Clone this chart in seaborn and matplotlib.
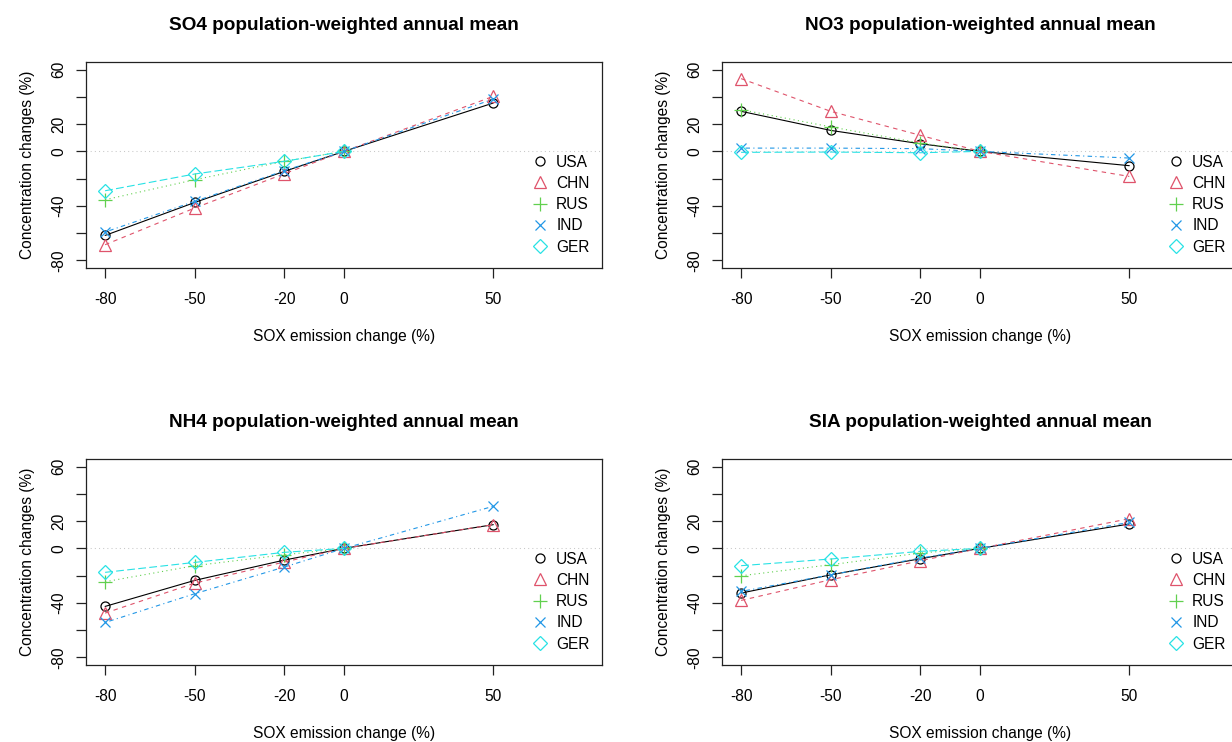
import numpy as np
import pandas as pd
import matplotlib
matplotlib.use("Agg")
import matplotlib.pyplot as plt
from matplotlib.lines import Line2D
import seaborn as sns

# ---------------- data ----------------
emission = [-80, -50, -20, 0, 50]
countries = ["USA", "CHN", "RUS", "IND", "GER"]
nan = np.nan

so4_usa = [-61.7, -37.5, -14.7, 0, 35.5]
so4_chn = [-68.5, -41.6, -16.4, 0, 40.4]
so4_rus = [-35.5, -20.8, -7.3, 0, nan]
so4_ind = [-59.2, -36.7, -14.2, 0, 38.4]
so4_ger = [-28.9, -16.6, -7.3, 0, nan]

no3_usa = [29.4, 15.4, 5.6, 0, -10.5]
no3_chn = [53.4, 29.4, 11.8, 0, -18.4]
no3_rus = [30.6, 18.0, 6.1, 0, nan]
no3_ind = [2.4, 2.4, 2.0, 0, -4.9]
no3_ger = [-0.7, -0.5, -1.0, 0, nan]

nh4_usa = [-42.6, -23.5, -8.6, 0, 17.4]
nh4_chn = [-47.5, -25.5, -10.0, 0, 17.4]
nh4_rus = [-24.5, -12.7, -4.7, 0, nan]
nh4_ind = [-54.4, -33.3, -13.7, 0, 30.9]
nh4_ger = [-17.6, -10.3, -2.9, 0, nan]

sia_usa = [-32.8, -19.4, -7.6, 0, 17.9]
sia_chn = [-38.2, -23.0, -9.1, 0, 21.8]
sia_rus = [-20.1, -12.0, -3.4, 0, nan]
sia_ind = [-31.6, -19.4, -7.1, 0, 19.1]
sia_ger = [-12.7, -7.8, -2.2, 0, nan]

panels = [
    ("SO4 population-weighted annual mean", [so4_usa, so4_chn, so4_rus, so4_ind, so4_ger]),
    ("NO3 population-weighted annual mean", [no3_usa, no3_chn, no3_rus, no3_ind, no3_ger]),
    ("NH4 population-weighted annual mean", [nh4_usa, nh4_chn, nh4_rus, nh4_ind, nh4_ger]),
    ("SIA population-weighted annual mean", [sia_usa, sia_chn, sia_rus, sia_ind, sia_ger]),
]

yticks = [-80, -60, -40, -20, 0, 20, 40, 60]
ytick_labels = ["-80", "", "-40", "", "0", "20", "", "60"]
xticks = emission
xtick_labels = ["-80", "-50", "-20", "0", "50"]

# ---------------- styles ----------------
colors = ["#000000", "#DF536B", "#61D04F", "#2297E6", "#28E2E5"]
markers = ["o", "^", "+", "x", "D"]
msizes = [6.5, 9, 9.5, 7, 7]
linestyles = ["-", (0, (4, 4)), (0, (1, 3)), (0, (1, 3, 4, 3)), (0, (7, 3))]

sns.set_style("ticks")
plt.rcParams["font.family"] = ["Liberation Sans", "DejaVu Sans"]
for k in ["text.color", "axes.labelcolor", "xtick.color", "ytick.color"]:
    plt.rcParams[k] = "black"
FS = 11.2
plt.rcParams["font.size"] = FS

W, H = 1232, 742
fig = plt.figure(figsize=(W / 100, H / 100), dpi=100)

boxes = [(86, 62), (722, 62), (86, 459), (722, 459)]
bw, bh = 516, 206

for (title, series), (bx, by) in zip(panels, boxes):
    ax = fig.add_axes([bx / W, (H - by - bh) / H, bw / W, bh / H])
    ax.axhline(0, color="#C8C8C8", ls=(0, (1, 3)), lw=0.75, zorder=0)
    for i, (name, vals) in enumerate(zip(countries, series)):
        df = pd.DataFrame({"emission": emission, "value": vals}).dropna()
        sns.lineplot(data=df, x="emission", y="value", ax=ax,
                     color=colors[i], marker=markers[i], ms=msizes[i],
                     mfc="none", mec=colors[i], mew=0.9,
                     linestyle=linestyles[i], lw=0.8, sort=True)
    ax.set_xlim(-86.4, 86.4)
    ax.set_ylim(-85.6, 65.6)
    ax.set_xticks(xticks)
    ax.set_xticklabels(xtick_labels)
    ax.set_yticks(yticks)
    ax.set_yticklabels(ytick_labels, rotation=90, va="center")
    ax.tick_params(axis="both", length=7, width=0.9, color="#222222",
                   labelsize=FS, labelcolor="black", direction="out")
    ax.tick_params(axis="x", pad=10)
    ax.tick_params(axis="y", pad=7)
    for sp in ax.spines.values():
        sp.set_visible(True)
        sp.set_color("#222222")
        sp.set_linewidth(0.9)
    ax.set_title(title, fontsize=13.7, fontweight="bold", pad=23, color="black")
    ax.set_xlabel("SOX emission change (%)", fontsize=FS, labelpad=16)
    ax.set_ylabel("Concentration changes (%)", fontsize=FS, labelpad=12)
    handles = [Line2D([], [], linestyle="none", marker=markers[i], ms=msizes[i],
                      mfc="none", mec=colors[i], mew=0.9) for i in range(5)]
    ax.legend(handles, countries, loc="upper left", bbox_to_anchor=(0.866, 0.55),
              frameon=False, borderpad=0, borderaxespad=0, handlelength=0.95,
              handletextpad=0.55, labelspacing=0.4, fontsize=FS,
              labelcolor="black")

fig.savefig("out.png", dpi=100)
